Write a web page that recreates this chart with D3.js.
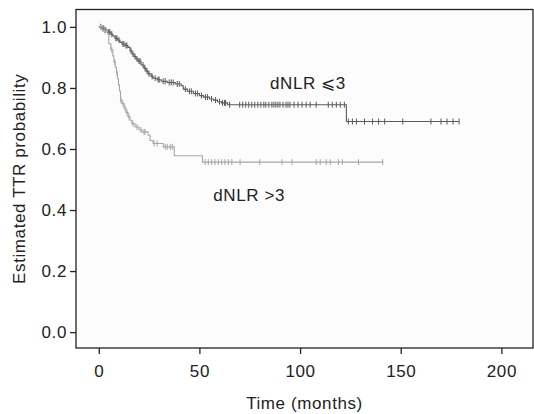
<!DOCTYPE html>
<html>
<head>
<meta charset="utf-8">
<script src="https://cdn.jsdelivr.net/npm/d3@7"></script>
<style>
  html, body { margin: 0; padding: 0; background: #fff; }
  svg { display: block; font-family: "Liberation Sans", Arial, Helvetica, sans-serif; }
  svg text { letter-spacing: 0.6px; }
</style>
</head>
<body>
<div id="chart"></div>
<script>
// Kaplan-Meier estimates (time in months, survival)
const lowStepTimes = [1.5, 3, 4.5, 6, 7, 8, 9.5, 10.5, 11.5, 13, 14.5, 15.5, 16.5, 17.5, 18.5, 19.5,
  21, 22.5, 23.5, 24.5, 26, 27, 29, 31, 34, 38, 41, 42, 44, 47, 50, 52, 55, 57, 59, 61, 64, 123];
const lowStepSurv = [0.995, 0.99, 0.983, 0.976, 0.97, 0.963, 0.957, 0.95, 0.944, 0.939, 0.933, 0.922,
  0.911, 0.903, 0.895, 0.888, 0.875, 0.864, 0.855, 0.846, 0.838, 0.832, 0.827, 0.822, 0.818, 0.813,
  0.807, 0.796, 0.789, 0.782, 0.775, 0.77, 0.764, 0.76, 0.755, 0.751, 0.745, 0.69];
const lowCensor = [1, 2, 2.5, 3.5, 5, 5.5, 6.5, 8.5, 9, 10, 12, 12.5, 13.5, 14, 16, 17, 18, 19, 20,
  20.5, 22, 23, 24, 25, 26.5, 28, 29.5, 30, 32, 33, 35, 36, 37, 39, 40, 43, 45, 46, 48, 49, 51, 53,
  54, 56, 58, 60, 61.5, 62.5, 63, 65, 70, 71.5, 73, 74.5, 76, 77.5, 79, 80.5, 82, 83, 84.5, 86, 87,
  88, 89, 90, 91.5, 93, 94, 95, 97, 99, 101, 103, 105, 108, 114, 116, 118, 120, 122,
  124, 126, 128, 132, 136, 139, 142, 151, 165, 170, 173, 176, 179];
const lowEnd = 179;

const highStepTimes = [2, 4.3, 5, 6, 7, 7.5, 8.2, 8.8, 9.3, 9.8, 10.3, 10.8, 11.5, 12.5, 13.5, 14.5,
  15.5, 16.5, 18, 20, 21.5, 24.5, 25.5, 27, 32, 37.5, 51.5];
const highStepSurv = [0.988, 0.978, 0.945, 0.925, 0.905, 0.885, 0.868, 0.85, 0.83, 0.81, 0.79, 0.76,
  0.749, 0.735, 0.72, 0.706, 0.694, 0.683, 0.672, 0.662, 0.656, 0.645, 0.628, 0.618, 0.607, 0.578, 0.557];
const highCensor = [1, 3, 6.5, 8, 9, 11, 12, 13, 14, 15, 17, 19, 21, 22.5, 23, 27.5, 29, 33, 34,
  35.5, 36.5, 52.8, 54.4, 56.1, 57.7, 59.4, 61.1, 62.7, 64.4, 66.1, 70.2, 80, 91, 96, 108, 110,
  113, 115, 119, 121, 129, 141];
const highEnd = 141.4;

const xTicks = [0, 50, 100, 150, 200];
const yTicks = [0, 0.2, 0.4, 0.6, 0.8, 1.0];

const W = 534, H = 414;
const margin = { top: 9.5, right: 1, bottom: 66, left: 76 };
const FONT = '17px';

const svg = d3.select('#chart').append('svg')
  .attr('width', W).attr('height', H);

const x = d3.scaleLinear().domain([-11.3, 215.7]).range([margin.left, W - margin.right]);
const y = d3.scaleLinear().domain([-0.052, 1.057]).range([H - margin.bottom, margin.top]);

// plot panel
svg.append('rect')
  .attr('x', margin.left).attr('y', margin.top)
  .attr('width', W - margin.right - margin.left)
  .attr('height', H - margin.bottom - margin.top)
  .attr('fill', '#fcfcfc')
  .attr('stroke', '#222').attr('stroke-width', 1.3);

// axes
const xAxis = svg.append('g')
  .attr('transform', `translate(0,${H - margin.bottom})`)
  .call(d3.axisBottom(x).tickValues(xTicks).tickSize(6).tickPadding(11).tickFormat(d3.format('d')));
const yAxis = svg.append('g')
  .attr('transform', `translate(${margin.left},0)`)
  .call(d3.axisLeft(y).tickValues(yTicks).tickSize(6).tickPadding(3).tickFormat(d3.format('.1f')));

[xAxis, yAxis].forEach(g => {
  g.select('.domain').remove();
  g.selectAll('line').attr('stroke', '#222').attr('stroke-width', 1.3);
  g.selectAll('text').attr('fill', '#222').style('font-size', FONT);
});

// curves
function stepPoints(times, surv, end) {
  const pts = [[0, 1]];
  times.forEach((t, i) => pts.push([t, surv[i]]));
  pts.push([end, surv[surv.length - 1]]);
  return pts;
}
function survAt(times, surv, t) {
  let s = 1;
  times.forEach((tt, i) => { if (tt <= t) s = surv[i]; });
  return s;
}

const line = d3.line()
  .x(d => x(d[0])).y(d => y(d[1]))
  .curve(d3.curveStepAfter);

const groups = [
  { times: lowStepTimes, surv: lowStepSurv, censor: lowCensor, end: lowEnd, color: '#5a5a5a' },
  { times: highStepTimes, surv: highStepSurv, censor: highCensor, end: highEnd, color: '#a6a6a6' }
];

groups.forEach(g => {
  svg.append('path')
    .datum(stepPoints(g.times, g.surv, g.end))
    .attr('d', line)
    .attr('fill', 'none')
    .attr('stroke', g.color)
    .attr('stroke-width', 1.1);

  svg.append('g').selectAll('line')
    .data(g.censor)
    .enter()
    .append('line')
    .attr('x1', d => x(d)).attr('x2', d => x(d))
    .attr('y1', d => y(survAt(g.times, g.surv, d)) - 3)
    .attr('y2', d => y(survAt(g.times, g.surv, d)) + 3)
    .attr('stroke', g.color)
    .attr('stroke-width', 1);
});

// curve labels
svg.append('text')
  .attr('x', x(85.1)).attr('y', y(0.798))
  .attr('fill', '#222').style('font-size', FONT)
  .text('dNLR \u2A7D3');
svg.append('text')
  .attr('x', x(56.9)).attr('y', y(0.4285))
  .attr('fill', '#222').style('font-size', FONT)
  .text('dNLR >3');

// axis titles
svg.append('text')
  .attr('x', (margin.left + W - margin.right) / 2).attr('y', 409)
  .attr('text-anchor', 'middle')
  .attr('fill', '#222').style('font-size', FONT)
  .text('Time (months)');
svg.append('text')
  .attr('transform', `translate(25,${(margin.top + H - margin.bottom) / 2}) rotate(-90)`)
  .attr('text-anchor', 'middle')
  .attr('fill', '#222').style('font-size', FONT)
  .text('Estimated TTR probability');
</script>
</body>
</html>
